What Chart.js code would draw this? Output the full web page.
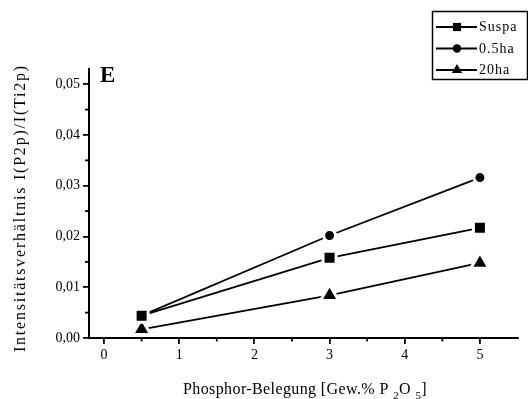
<!DOCTYPE html>
<html><head><meta charset="utf-8">
<script src="https://cdn.jsdelivr.net/npm/chart.js@4/dist/chart.umd.min.js"></script>
<style>html,body{margin:0;padding:0;background:#fff;overflow:hidden}#wrap{width:531px;height:399px}</style>
</head><body><div id="wrap"><canvas id="c" width="531" height="399"></canvas></div>
<script>
// ---- data ----
const xValues = [0.5, 3, 5];
const suspa = [0.0044, 0.0158, 0.0217];
const ha05 = [0.0044, 0.0202, 0.0316];
const ha20 = [0.0017, 0.0084, 0.0148];
const seriesLabels = ['Suspa', '0.5ha', '20ha'];
const xTicks = [0, 1, 2, 3, 4, 5];
const yTicks = [0, 0.01, 0.02, 0.03, 0.04, 0.05];
const xMinorTicks = [0.5, 1.5, 2.5, 3.5, 4.5];
const yMinorTicks = [0.005, 0.015, 0.025, 0.035, 0.045];
const panelLabel = 'E';
const yTitle = 'Intensitätsverhältnis I(P2p)/I(Ti2p)';
const xTitleParts = [['Phosphor-Belegung [Gew.% P ', false], ['2', true], ['O ', false], ['5', true], [']', false]];

// ---- style ----
const SERIF = '"Liberation Serif", "Times New Roman", serif';
const pointStyles = ['rect', 'circle', 'triangle'];
const pointRadii = [9.2, 6, 10.5];
const legendRadii = [5.8, 4.2, 6];

const series = [suspa, ha05, ha20];
const datasets = series.map((vals, i) => ({
  label: seriesLabels[i],
  data: xValues.map((x, j) => ({ x: x, y: vals[j] })),
  borderColor: '#000',
  backgroundColor: '#000',
  borderWidth: 1.8,
  tension: 0,
  fill: false,
  clip: false,
  pointStyle: pointStyles[i],
  pointRadius: pointRadii[i],
  pointHoverRadius: pointRadii[i],
  pointBackgroundColor: '#000',
  pointBorderColor: '#fff',
  pointBorderWidth: 3,
  pointHoverBorderWidth: 3
}));

function spacingFor(ctx, text, target) {
  ctx.letterSpacing = '0px';
  const w = ctx.measureText(text).width;
  return (target - w) / text.length;
}

function noPad(s) { s.paddingLeft = 0; s.paddingRight = 0; s.paddingTop = 0; s.paddingBottom = 0; }

const decor = {
  id: 'decor',
  afterDraw(chart) {
    const ctx = chart.ctx, xs = chart.scales.x, ys = chart.scales.y, ca = chart.chartArea;
    ctx.save();
    ctx.strokeStyle = '#000';
    ctx.fillStyle = '#000';
    ctx.lineWidth = 1.8;
    // minor ticks
    xMinorTicks.forEach(v => {
      const px = xs.getPixelForValue(v);
      ctx.beginPath(); ctx.moveTo(px, ca.bottom); ctx.lineTo(px, ca.bottom + 3.5); ctx.stroke();
    });
    yMinorTicks.forEach(v => {
      const py = ys.getPixelForValue(v);
      ctx.beginPath(); ctx.moveTo(ca.left, py); ctx.lineTo(ca.left - 4, py); ctx.stroke();
    });

    // panel label
    ctx.font = 'bold 23px ' + SERIF;
    ctx.textAlign = 'left'; ctx.textBaseline = 'alphabetic';
    ctx.fillText(panelLabel, 100, 82);

    // y title
    ctx.save();
    ctx.translate(21, 209);
    ctx.rotate(-Math.PI / 2);
    ctx.font = '16px ' + SERIF;
    const ls = spacingFor(ctx, yTitle, 288);
    ctx.letterSpacing = ls + 'px';
    ctx.textAlign = 'center'; ctx.textBaseline = 'middle';
    ctx.fillText(yTitle, ls / 2, 0);
    ctx.restore();

    // x title with subscripts
    const mainFont = '16px ' + SERIF, subFont = '11px ' + SERIF;
    ctx.letterSpacing = '0px';
    let raw = 0, n = 0;
    xTitleParts.forEach(([t, sub]) => { ctx.font = sub ? subFont : mainFont; raw += ctx.measureText(t).width; n += t.length; });
    const s = (244 - raw) / n;
    ctx.letterSpacing = s + 'px';
    let x = 183;
    ctx.textAlign = 'left'; ctx.textBaseline = 'alphabetic';
    xTitleParts.forEach(([t, sub]) => {
      ctx.font = sub ? subFont : mainFont;
      ctx.fillText(t, x, sub ? 398.5 : 394);
      x += ctx.measureText(t).width;
    });
    ctx.letterSpacing = '0px';

    // legend
    ctx.lineWidth = 1.5;
    ctx.strokeRect(432.5, 11.5, 95, 68);
    chart.data.datasets.forEach((ds, i) => {
      const y = 27 + i * 21.5;
      ctx.lineWidth = 1.8;
      ctx.beginPath(); ctx.moveTo(436, y); ctx.lineTo(477, y); ctx.stroke();
      ctx.fillStyle = '#000';
      Chart.helpers.drawPoint(ctx, { pointStyle: pointStyles[i], radius: legendRadii[i], rotation: 0, borderWidth: 0 }, 457, y);
      ctx.font = '14px ' + SERIF;
      ctx.letterSpacing = '1px';
      ctx.textAlign = 'left'; ctx.textBaseline = 'middle';
      ctx.fillText(ds.label, 479, y + 0.5);
      ctx.letterSpacing = '0px';
    });
    ctx.restore();
  }
};

const tickFont = { family: SERIF, size: 14 };

new Chart(document.getElementById('c'), {
  type: 'line',
  data: { datasets: datasets },
  options: {
    responsive: false,
    maintainAspectRatio: false,
    animation: false,
    events: [],
    devicePixelRatio: 1,
    layout: { padding: { left: 0, top: 69, right: 0, bottom: 0 } },
    plugins: { legend: { display: false }, tooltip: { enabled: false } },
    scales: {
      x: {
        type: 'linear', min: -0.2, max: 5.5,
        afterBuildTicks: s => { s.ticks = xTicks.map(v => ({ value: v })); },
        afterFit: s => { s.height = 61; noPad(s); },
        grid: { drawOnChartArea: false, drawTicks: true, tickLength: 6, color: '#000', lineWidth: 1.8 },
        border: { display: true, color: '#000', width: 2 },
        ticks: { font: tickFont, color: '#000', padding: 3, maxRotation: 0, callback: v => String(v) }
      },
      y: {
        type: 'linear', min: 0, max: 0.053,
        afterBuildTicks: s => { s.ticks = yTicks.map(v => ({ value: v })); },
        afterFit: s => { s.width = 89; noPad(s); },
        grid: { drawOnChartArea: false, drawTicks: true, tickLength: 6, color: '#000', lineWidth: 1.8 },
        border: { display: true, color: '#000', width: 2 },
        ticks: { font: tickFont, color: '#000', padding: 3, callback: v => v.toFixed(2).replace('.', ',') }
      }
    }
  },
  plugins: [decor]
});
</script>
</body></html>
